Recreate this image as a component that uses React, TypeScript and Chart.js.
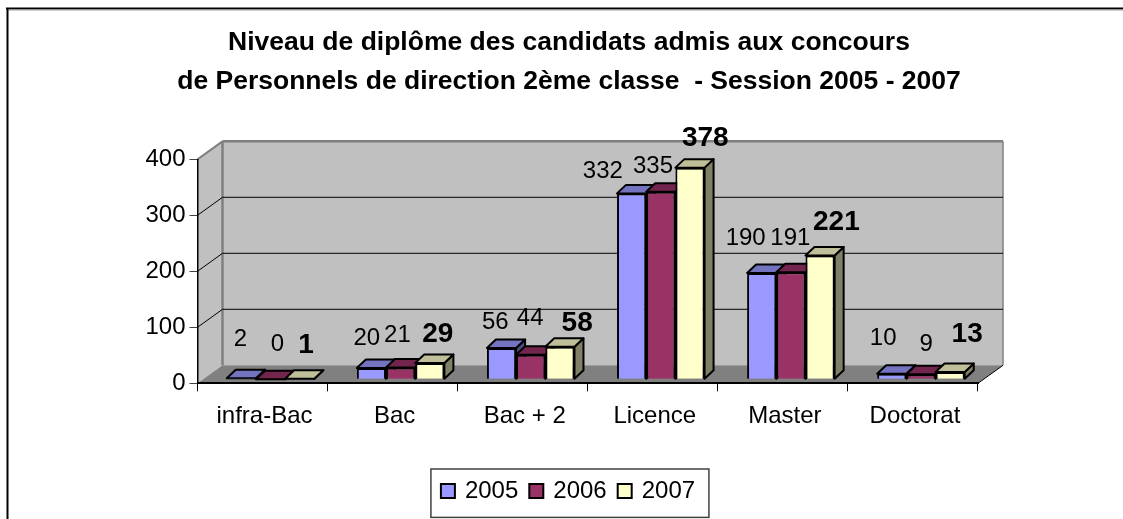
import React, { useEffect, useRef } from "react";
import { Chart, registerables } from "chart.js";

Chart.register(...registerables);

const categories = ["infra-Bac", "Bac", "Bac + 2", "Licence", "Master", "Doctorat"];
const values2005 = [2, 20, 56, 332, 190, 10];
const values2006 = [0, 21, 44, 335, 191, 9];
const values2007 = [1, 29, 58, 378, 221, 13];
const seriesNames = ["2005", "2006", "2007"];
const titleLines = [
  "Niveau de diplôme des candidats admis aux concours",
  "de Personnels de direction 2ème classe  - Session 2005 - 2007",
];

const FONT = "'Liberation Sans', Arial, sans-serif";
const DEPTH_X = 25;
const DEPTH_Y = 18;
const BAR_SHIFT_X = 8;
const BAR_SHIFT_Y = 4;
const BAR_DX = 9;
const BAR_DY = 8.5;

const faces = [
  { front: "#9999FF", top: "#7373BF", side: "#4D4D80" },
  { front: "#993366", top: "#73264D", side: "#4D1A33" },
  { front: "#FFFFCC", top: "#BFBF99", side: "#808066" },
];

// Label nudges [dx, dy] from the top centre of each bar's front face.
const labelNudges = [
  [[-1, -40], [-4.6, -31.4], [-6.3, -27], [-28.8, -24], [-16, -35.6], [-8.6, -37]],
  [[6.8, -36.3], [-3.2, -33.5], [-0.5, -37.7], [-7.8, -26.7], [-0.5, -35], [5.2, -31]],
  [[6.3, -34.7], [8, -30.4], [17.3, -25], [15.3, -30.6], [16.3, -34.8], [17, -39]],
];

const poly = (ctx: CanvasRenderingContext2D, pts: number[][], fill: string | null, stroke?: string, lw = 1) => {
  ctx.beginPath();
  pts.forEach((p, i) => (i ? ctx.lineTo(p[0], p[1]) : ctx.moveTo(p[0], p[1])));
  ctx.closePath();
  if (fill) {
    ctx.fillStyle = fill;
    ctx.fill();
  }
  if (stroke) {
    ctx.strokeStyle = stroke;
    ctx.lineWidth = lw;
    ctx.lineJoin = "round";
    ctx.stroke();
  }
};

const line = (ctx: CanvasRenderingContext2D, x1: number, y1: number, x2: number, y2: number, color: string, lw: number) => {
  ctx.beginPath();
  ctx.moveTo(x1, y1);
  ctx.lineTo(x2, y2);
  ctx.strokeStyle = color;
  ctx.lineWidth = lw;
  ctx.stroke();
};

const scenePlugin = {
  id: "scene3d",
  beforeDraw(chart: any) {
    const { ctx, chartArea: a, scales } = chart;
    const y = scales.y;
    ctx.save();
    ctx.fillStyle = "#FFFFFF";
    ctx.fillRect(0, 0, chart.width, chart.height);
    // frame of the embedded picture
    line(ctx, 6, 8.5, chart.width, 8.5, "#000000", 2);
    line(ctx, 8, 10, chart.width, 10, "#A0A0A0", 1);
    line(ctx, 7.5, 8, 7.5, chart.height, "#000000", 2);

    const l = a.left, r = a.right, b = a.bottom, t = a.top;
    const dx = DEPTH_X, dy = DEPTH_Y;
    poly(ctx, [[l + dx, t - dy], [r + dx, t - dy], [r + dx, b - dy], [l + dx, b - dy]], "#C0C0C0");
    poly(ctx, [[l, t], [l + dx, t - dy], [l + dx, b - dy], [l, b]], "#C0C0C0");
    poly(ctx, [[l, b], [l + dx, b - dy], [r + dx, b - dy], [r, b]], "#808080");
    // wall edges
    line(ctx, l + dx, t - dy, r + dx, t - dy, "#808080", 2.5);
    line(ctx, l + dx, t - dy, l + dx, b - dy, "#808080", 2.5);
    line(ctx, r + dx, t - dy, r + dx, b - dy, "#808080", 1.5);
    line(ctx, l, t, l + dx, t - dy, "#808080", 2);
    line(ctx, r, b, r + dx, b - dy, "#000000", 1);
    // gridlines
    for (const v of [100, 200, 300]) {
      const py = y.getPixelForValue(v);
      line(ctx, l, py, l + dx, py - dy, "#000000", 1);
      line(ctx, l + dx, py - dy, r + dx, py - dy, "#000000", 1);
    }
    ctx.restore();
  },
  beforeDatasetsDraw(chart: any) {
    const { ctx } = chart;
    // series are painted left to right so that each one overlaps its neighbour's side face
    chart.data.datasets.forEach((_: any, idx: number) => {
      const meta = chart.getDatasetMeta(idx);
      const c = faces[idx];
      ctx.save();
      ctx.translate(BAR_SHIFT_X, -BAR_SHIFT_Y);
      meta.data.forEach((bar: any) => {
        const xl = bar.x - bar.width / 2;
        const xr = bar.x + bar.width / 2;
        poly(ctx, [[xr, bar.y], [xr + BAR_DX, bar.y - BAR_DY], [xr + BAR_DX, bar.base - BAR_DY], [xr, bar.base]], c.side, "#000000", 2);
        poly(ctx, [[xl, bar.y], [xl + BAR_DX, bar.y - BAR_DY], [xr + BAR_DX, bar.y - BAR_DY], [xr, bar.y]], c.top, "#000000", 2);
      });
      meta.controller.draw();
      ctx.restore();
    });
    ctx.save();
    ctx.textAlign = "center";
    ctx.textBaseline = "middle";
    ctx.fillStyle = "#000000";
    chart.data.datasets.forEach((ds: any, i: number) => {
      ctx.font = i === 2 ? `bold 28px ${FONT}` : `24px ${FONT}`;
      chart.getDatasetMeta(i).data.forEach((bar: any, j: number) => {
        const [nx, ny] = labelNudges[i][j];
        ctx.fillText(String(ds.data[j]), bar.x + BAR_SHIFT_X + nx, bar.y - BAR_SHIFT_Y + ny + 1.5);
      });
    });
    ctx.restore();
    return false;
  },
  afterDraw(chart: any) {
    const { ctx, legend } = chart;
    const boxes = legend.legendHitBoxes;
    if (!boxes || !boxes.length) return;
    ctx.save();
    const first = boxes[0];
    const cyFrame = first.top + first.height / 2;
    ctx.strokeStyle = "#404040";
    ctx.lineWidth = 1.5;
    ctx.strokeRect(first.left - 12, cyFrame - 22, 278, 48.4);
    boxes.forEach((hb: any, i: number) => {
      const cy = hb.top + hb.height / 2;
      ctx.fillStyle = faces[i].front;
      ctx.fillRect(hb.left - 2, cy - 7, 14, 14);
      ctx.strokeStyle = "#000000";
      ctx.lineWidth = 2;
      ctx.strokeRect(hb.left - 2, cy - 7, 14, 14);
    });
    ctx.restore();
  },
};

export default function App() {
  const ref = useRef<HTMLCanvasElement | null>(null);
  useEffect(() => {
    if (!ref.current) return;
    const dataFor = [values2005, values2006, values2007];
    const chart = new Chart(ref.current, {
      type: "bar",
      plugins: [scenePlugin],
      data: {
        labels: categories,
        datasets: seriesNames.map((name, i) => ({
          label: name,
          data: dataFor[i],
          backgroundColor: faces[i].front,
          borderColor: "#000000",
          borderWidth: 2,
          clip: false,
          barPercentage: 1,
          categoryPercentage: 0.673,
        })),
      },
      options: {
        responsive: false,
        animation: false,
        devicePixelRatio: 1,
        layout: { padding: { left: 15, right: 0, top: 0, bottom: 6 } },
        plugins: {
          tooltip: { enabled: false },
          title: {
            display: true,
            text: titleLines,
            color: "#000000",
            font: { family: FONT, size: 26.5, weight: "bold", lineHeight: 1.472 },
            padding: { top: 23.5, bottom: 57.8 },
          },
          legend: {
            position: "bottom",
            labels: {
              color: "#000000",
              font: { family: FONT, size: 24 },
              boxWidth: 10,
              boxHeight: 10,
              padding: 13,
            },
          },
        },
        scales: {
          x: {
            border: { color: "#000000", width: 2 },
            grid: { drawOnChartArea: false, drawTicks: true, tickLength: 8, color: "#000000", offset: true },
            ticks: { color: "#000000", font: { family: FONT, size: 24 }, padding: 11, maxRotation: 0, autoSkip: false, labelOffset: 2 },
            afterFit: (s: any) => {
              s.height = 519 - 6 - (s.chart.legend?.height ?? 50) - 383.3;
            },
          },
          y: {
            min: 0,
            max: 400,
            border: { color: "#000000", width: 1.5 },
            grid: { drawOnChartArea: false, drawTicks: true, tickLength: 8, color: "#404040" },
            ticks: { stepSize: 100, color: "#000000", font: { family: FONT, size: 24 }, padding: 4 },
            afterFit: (s: any) => {
              s.width = 182.5;
            },
          },
          yRightSpacer: {
            type: "linear",
            position: "right",
            display: true,
            min: 0,
            max: 400,
            border: { display: false },
            grid: { display: false, drawOnChartArea: false },
            ticks: { display: false },
            afterFit: (s: any) => {
              s.width = 145;
            },
          },
        },
      },
    } as any);
    return () => chart.destroy();
  }, []);
  return (
    <canvas
      ref={ref}
      width={1123}
      height={519}
      style={{ position: "absolute", left: 0, top: 0, display: "block", width: 1123, height: 519 }}
    />
  );
}
